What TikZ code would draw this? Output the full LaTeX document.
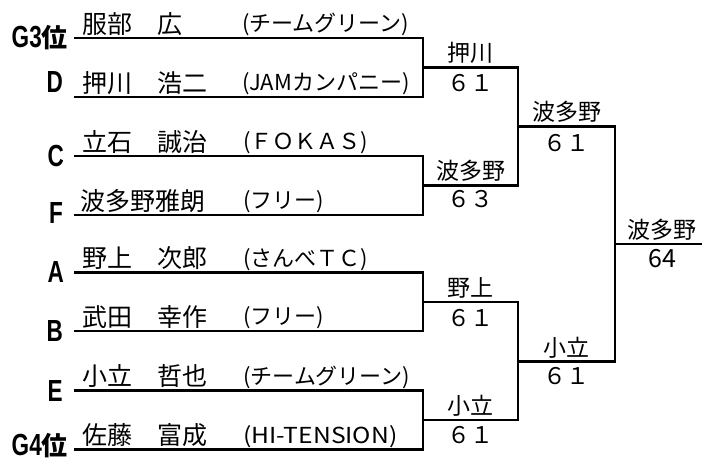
\documentclass[tikz,border=0pt]{standalone}
\usepackage{fontspec}
\newfontfamily\jp{Noto Sans CJK JP}
\newfontfamily\lab{Liberation Sans}[FakeStretch=0.74]
\begin{document}
\begin{tikzpicture}[x=1pt,y=-1pt,
  bline/.style={line width=2.2pt,line join=miter,line cap=rect},
  pname/.style={anchor=base west,inner sep=0pt,font=\jp\fontsize{25}{25}\selectfont},
  team/.style={anchor=base west,inner sep=0pt,font=\jp\fontsize{22}{22}\selectfont},
  win/.style={anchor=base,inner sep=0pt,font=\jp\fontsize{23}{23}\selectfont},
  seed/.style={anchor=base east,inner sep=0pt,font=\lab\bfseries\fontsize{30.5}{30.5}\selectfont},
  gseed/.style={anchor=base east,inner sep=0pt,font=\lab\bfseries\fontsize{30.5}{30.5}\selectfont}]
\useasboundingbox (0,0) rectangle (702,462);
% player line levels
\foreach \i/\y in {1/38,2/97,3/156,4/215,5/272.5,6/331,7/390.5,8/449.5}{
  \coordinate (pL\i) at (75,\y);
  \coordinate (pR\i) at (423,\y);
}
% round 1 mid points
\coordinate (a1) at (423,67.5);  \coordinate (b1) at (518,67.5);
\coordinate (a2) at (423,185.5); \coordinate (b2) at (518,185.5);
\coordinate (a3) at (423,302);   \coordinate (b3) at (518,302);
\coordinate (a4) at (423,420);   \coordinate (b4) at (518,420);
% round 2 mid points
\coordinate (c1) at (518,126.5); \coordinate (d1) at (615,126.5);
\coordinate (c2) at (518,361.5); \coordinate (d2) at (615,361.5);
% final
\coordinate (e1) at (615,244);   \coordinate (f1) at (702,244);

\draw[bline] (pL1) -- (pR1) -- (pR2) -- (pL2);
\draw[bline] (pL3) -- (pR3) -- (pR4) -- (pL4);
\draw[bline] (pL5) -- (pR5) -- (pR6) -- (pL6);
\draw[bline] (pL7) -- (pR7) -- (pR8) -- (pL8);
\draw[bline] (a1) -- (b1) -- (b2) -- (a2);
\draw[bline] (a3) -- (b3) -- (b4) -- (a4);
\draw[bline] (c1) -- (d1) -- (d2) -- (c2);
\draw[bline] (e1) -- (f1);

% seeds
\node[gseed] (s1) at (68,48) {G3{\jp\fontsize{26}{26}\selectfont 位}};
\node[seed] (s2) at (63,93) {D};
\node[seed] (s3) at (64,167) {C};
\node[seed] (s4) at (63,224) {F};
\node[seed] (s5) at (64,283) {A};
\node[seed] (s6) at (63,342) {B};
\node[seed] (s7) at (63,402) {E};
\node[gseed] (s8) at (68,456) {G4{\jp\fontsize{26}{26}\selectfont 位}};

% names
\node[pname] (n1) at (82,33.5) {服部　広};
\node[pname] (n2) at (82,92.5) {押川　浩二};
\node[pname] (n3) at (82,151.5) {立石　誠治};
\node[pname] (n4) at (80,210.5) {波多野雅朗};
\node[pname] (n5) at (82,268) {野上　次郎};
\node[pname] (n6) at (82,326.5) {武田　幸作};
\node[pname] (n7) at (82,386) {小立　哲也};
\node[pname] (n8) at (82,445) {佐藤　富成};

% teams
\node[team] (t1) at (242,32) {(チームグリーン)};
\node[team] (t2) at (242,91) {(JAMカンパニー)};
\node[team] (t3) at (243,150) {(ＦＯＫＡＳ)};
\node[team] (t4) at (243,209) {(フリー)};
\node[team] (t5) at (243,266.5) {(さんべＴＣ)};
\node[team] (t6) at (243,325) {(フリー)};
\node[team] (t7) at (243,384.5) {(チームグリーン)};
\node[team,xscale=1.12] (t8) at (243,443.5) {(HI-TENSION)};

% winners and scores
\node[win] (w1) at (470.5,62) {押川};
\node[win] (x1) at (470.5,92) {６１};
\node[win] (w2) at (470.5,180) {波多野};
\node[win] (x2) at (470.5,208) {６３};
\node[win] (w3) at (470.5,297) {野上};
\node[win] (x3) at (470.5,327) {６１};
\node[win] (w4) at (470.5,415) {小立};
\node[win] (x4) at (470.5,443) {６１};
\node[win] (w5) at (566.5,121) {波多野};
\node[win] (x5) at (566.5,152) {６１};
\node[win] (w6) at (566.5,356.5) {小立};
\node[win] (x6) at (566.5,385) {６１};
\node[win] (w7) at (662,239) {波多野};
\node[win,font=\jp\fontsize{25}{25}\selectfont] (x7) at (662,268) {64};
\end{tikzpicture}
\end{document}
